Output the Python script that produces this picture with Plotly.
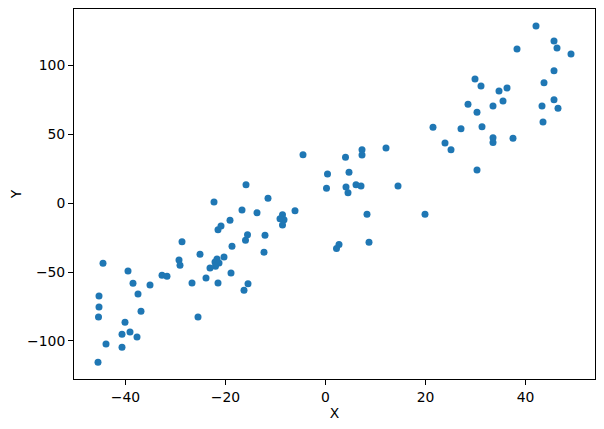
import plotly.graph_objects as go

x_vals = [
    -44.5, -45.3, -45.3, -45.4, -43.9, -45.5, -39.5, -38.5, -37.5, -36.9,
    -40.1, -40.7, -39.1, -37.7, -40.7, -35.1, -32.7, -31.7, -28.7, -29.3,
    -29.1, -26.7, -25.5, -25.1, -23.9, -20.3, -21.7, -22.1, -21.3, -22.0,
    -23.1, -22.3, -21.5, -20.9, -21.5, -18.9, -19.1, -18.7, -16.7, -15.9,
    -16.0, -15.6, -16.3, -15.5, -4.5, 0.4, 0.2, -11.5, -13.7, -8.6,
    -8.3, -9.1, -8.6, -6.1, -12.1, -12.3, 21.5, 23.9, 25.1, 4.0,
    7.3, 7.3, 12.1, 4.7, 4.1, 4.5, 6.1, 7.1, 14.5, 8.3,
    19.9, 2.7, 2.2, 8.7, 42.1, 45.7, 46.3, 49.1, 38.3, 45.7,
    29.9, 31.1, 43.7, 34.7, 36.3, 35.5, 28.5, 33.5, 30.3, 45.7,
    43.3, 46.5, 43.5, 27.1, 31.3, 33.5, 33.5, 37.5, 30.3,
]
y_vals = [
    -43.6, -67.4, -75.4, -82.6, -102.3, -115.6, -49.2, -58.1, -65.9, -78.5,
    -86.5, -95.2, -93.5, -97.2, -104.7, -59.4, -52.3, -53.1, -28.1, -41.2,
    -45.1, -57.9, -82.6, -37.1, -54.3, -39.1, -40.5, -42.7, -43.4, -45.8,
    -47.0, 0.9, -19.4, -16.5, -57.9, -50.7, -12.4, -31.3, -4.9, 13.3,
    -26.9, -23.0, -63.2, -58.6, 35.1, 21.1, 10.9, 3.6, -7.0, -8.5,
    -12.1, -11.4, -15.8, -5.6, -23.3, -35.6, 55.2, 43.6, 38.7, 33.4,
    38.7, 34.9, 40.0, 22.5, 11.8, 7.5, 13.3, 12.4, 12.4, -8.0,
    -8.0, -30.1, -33.0, -28.3, 128.6, 117.7, 112.6, 108.3, 111.9, 96.2,
    90.1, 85.0, 87.4, 81.4, 83.6, 74.1, 71.9, 70.5, 66.1, 75.1,
    70.5, 69.0, 58.9, 54.0, 55.4, 47.5, 44.0, 47.2, 24.0,
]
x_ticks = [-40, -20, 0, 20, 40]
y_ticks = [-100, -50, 0, 50, 100]

fig = go.Figure(
    go.Scatter(
        x=x_vals, y=y_vals, mode="markers",
        marker=dict(color="#1f77b4", size=7, line=dict(width=0)),
    )
)

font = dict(family="DejaVu Sans", size=13.9, color="black")
axis_common = dict(
    showgrid=False, zeroline=False, showline=True, linecolor="black",
    linewidth=1, mirror=True, ticks="outside", ticklen=5, tickwidth=1,
    tickcolor="black", tickfont=font,
)
# page body has an 8px margin, so the figure is sized to fit the window
fig.update_layout(
    width=596, height=421,
    margin=dict(l=66, r=9, t=1, b=50),
    paper_bgcolor="white", plot_bgcolor="white",
    showlegend=False,
    font=font,
    xaxis=dict(range=[-50.3, 53.9], tickvals=x_ticks,
               title=dict(text="X", font=font, standoff=4), **axis_common),
    yaxis=dict(range=[-127.7, 141], tickvals=y_ticks,
               title=dict(text="Y", font=font, standoff=5), **axis_common),
)
fig.write_html("out.html")
